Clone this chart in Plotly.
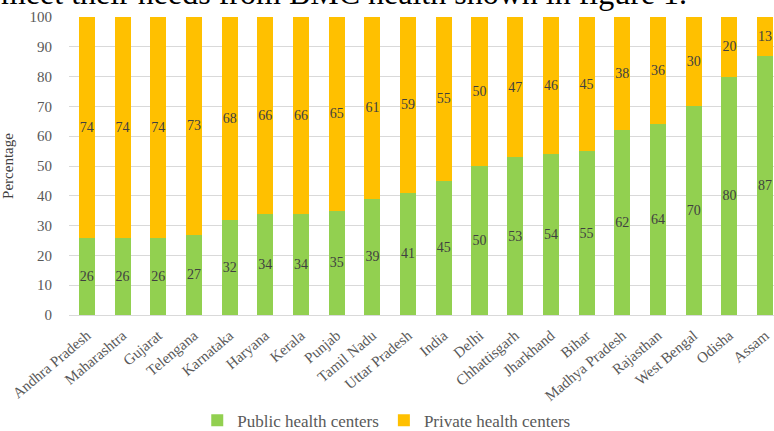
import plotly.graph_objects as go

states = [
    "Andhra Pradesh", "Maharashtra", "Gujarat", "Telengana", "Karnataka",
    "Haryana", "Kerala", "Punjab", "Tamil Nadu", "Uttar Pradesh", "India",
    "Delhi", "Chhattisgarh", "Jharkhand", "Bihar", "Madhya Pradesh",
    "Rajasthan", "West Bengal", "Odisha", "Assam",
]
public_pct = [26, 26, 26, 27, 32, 34, 34, 35, 39, 41, 45, 50, 53, 54, 55, 62, 64, 70, 80, 87]
private_pct = [74, 74, 74, 73, 68, 66, 66, 65, 61, 59, 55, 50, 47, 46, 45, 38, 36, 30, 20, 13]
y_ticks = list(range(0, 101, 10))

SERIF = "Liberation Serif, Times New Roman, serif"
GREEN = "#92D050"
ORANGE = "#FFC000"

fig = go.Figure()
for name, vals, color in [
    ("Public health centers", public_pct, GREEN),
    ("Private health centers", private_pct, ORANGE),
]:
    fig.add_trace(go.Bar(
        x=states, y=vals, name=name,
        marker=dict(color=color, line=dict(width=0)),
        width=0.45,
        text=vals, texttemplate="%{text}",
        textposition="inside", insidetextanchor="middle",
        textangle=0, constraintext="none",
        textfont=dict(family=SERIF, size=14, color="#404040"),
        hoverinfo="skip",
    ))

fig.update_layout(
    width=774, height=431,
    barmode="stack",
    margin=dict(l=69, r=0, t=17, b=116, autoexpand=False),
    paper_bgcolor="white", plot_bgcolor="white",
    font=dict(family=SERIF, color="#595959", size=15),
    showlegend=True,
    legend=dict(
        orientation="h", x=0.45, y=-0.355, xanchor="center", yanchor="middle",
        font=dict(family=SERIF, size=17, color="#595959"),
        itemwidth=30, traceorder="normal",
    ),
    xaxis=dict(
        range=[-0.5, 19.25], tickangle=-40, showgrid=False, automargin=False,
        showline=True, linecolor="#d9d9d9", linewidth=1,
        ticks="", ticklabelstandoff=5,
        tickfont=dict(family=SERIF, size=15, color="#595959"),
        fixedrange=True,
    ),
    yaxis=dict(
        range=[0, 100], tickvals=y_ticks, showgrid=True, gridcolor="#d9d9d9",
        gridwidth=1, zeroline=False, showline=False, ticks="", automargin=False,
        ticklabelstandoff=16,
        tickfont=dict(family=SERIF, size=15, color="#595959"),
        title=dict(text="Percentage", standoff=12,
                   font=dict(family=SERIF, size=15, color="#404040")),
        fixedrange=True,
    ),
    annotations=[dict(
        text="meet their needs from BMC health shown in figure 1.",
        xref="paper", yref="paper", x=-0.1, y=1.012,
        xanchor="left", yanchor="bottom", showarrow=False,
        font=dict(family=SERIF, size=32, color="#000000"),
    )],
)

fig.write_html("out.html", config={"displayModeBar": False})
